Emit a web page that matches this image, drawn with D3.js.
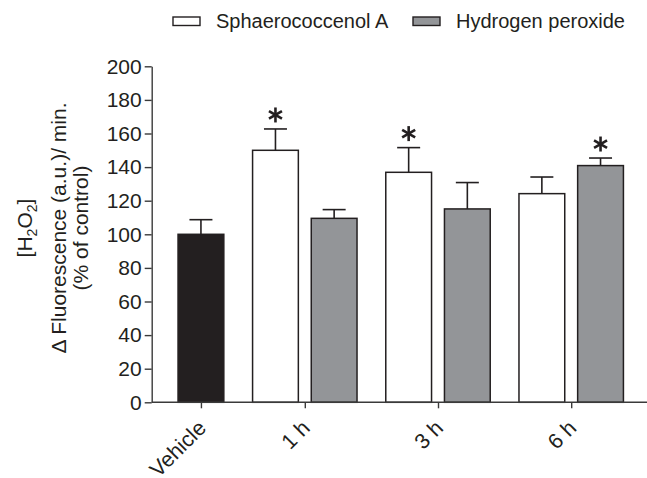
<!DOCTYPE html>
<html>
<head>
<meta charset="utf-8">
<script src="https://cdn.jsdelivr.net/npm/d3@7"></script>
<style>
  body { margin: 0; background: #fff; }
  svg { font-family: "Liberation Sans", Arial, sans-serif; }
</style>
</head>
<body>
<div id="chart"></div>
<script>
// groups along the x axis, and the two series
const groups = ["Vehicle", "1 h", "3 h", "6 h"];
const seriesNames = ["Sphaerococcenol A", "Hydrogen peroxide"];

// mean values (% of control) and upper SEM
const vehicleValue = 100;
const vehicleErr = 8.7;
const saValues = [150, 136.9, 124.2];
const saErrors = [12.7, 14.7, 9.9];
const h2o2Values = [109.5, 115.1, 140.9];
const h2o2Errors = [5.2, 15.7, 4.5];
// which bars carry an asterisk
const saStars = [true, true, false];
const h2o2Stars = [false, false, true];

const yTicks = [0, 20, 40, 60, 80, 100, 120, 140, 160, 180, 200];

function drawChart() {
    const width = 647;
    const height = 478;
    const margin = { top: 66.3, left: 151.7, bottom: 402.3 };

    const svg = d3.select("#chart")
        .append("svg")
        .attr("width", width)
        .attr("height", height);

    // build the bar table from the arrays
    const bars = [{ group: "Vehicle", series: "Hydrogen peroxide", value: vehicleValue, err: vehicleErr, star: false, fill: "#231f20" }];
    groups.slice(1).forEach((g, i) => {
        bars.push({ group: g, series: "Sphaerococcenol A", value: saValues[i], err: saErrors[i], star: saStars[i], fill: "#ffffff" });
        bars.push({ group: g, series: "Hydrogen peroxide", value: h2o2Values[i], err: h2o2Errors[i], star: h2o2Stars[i], fill: "#939598" });
    });

    const x0 = d3.scaleBand()
        .domain(groups)
        .range([105, 637.8])
        .padding(0);

    const x1 = d3.scaleBand()
        .domain(seriesNames)
        .range([0, x0.bandwidth()])
        .paddingInner(0.22)
        .paddingOuter(0.245);

    const y = d3.scaleLinear()
        .domain([0, 200])
        .range([margin.bottom, margin.top]);

    const barX = d => x0(d.group) + x1(d.series);
    const barMid = d => barX(d) + x1.bandwidth() / 2;

    // tick position for each group = middle of the bars it holds
    const tickPos = d3.scaleOrdinal()
        .domain(groups)
        .range(groups.map(g => d3.mean(bars.filter(b => b.group === g), barMid)));

    // y axis
    const yAxis = svg.append("g")
        .attr("transform", `translate(${margin.left},0)`)
        .call(d3.axisLeft(y).tickValues(yTicks).tickSize(7).tickPadding(3).tickSizeOuter(0));
    yAxis.select(".domain").attr("stroke", "#3a3a3a").attr("stroke-width", 1.4);
    yAxis.selectAll(".tick line").attr("stroke", "#3a3a3a").attr("stroke-width", 1.4);
    yAxis.selectAll("text")
        .attr("font-size", 21)
        .attr("fill", "#231f20")
        .attr("font-family", "Liberation Sans, Arial, sans-serif");

    // bars
    svg.append("g")
        .selectAll("rect")
        .data(bars)
        .join("rect")
        .attr("x", barX)
        .attr("y", d => y(d.value))
        .attr("width", x1.bandwidth())
        .attr("height", d => y(0) - y(d.value))
        .attr("fill", d => d.fill)
        .attr("stroke", "#231f20")
        .attr("stroke-width", 1.5);

    // error bars (upper only)
    const errG = svg.append("g").attr("stroke", "#231f20").attr("stroke-width", 1.6);
    errG.selectAll("line.stem")
        .data(bars)
        .join("line")
        .attr("class", "stem")
        .attr("x1", barMid).attr("x2", barMid)
        .attr("y1", d => y(d.value)).attr("y2", d => y(d.value + d.err));
    errG.selectAll("line.cap")
        .data(bars)
        .join("line")
        .attr("class", "cap")
        .attr("x1", d => barMid(d) - 11.5).attr("x2", d => barMid(d) + 11.5)
        .attr("y1", d => y(d.value + d.err)).attr("y2", d => y(d.value + d.err));

    // asterisks: three spokes
    const starG = svg.append("g")
        .selectAll("g")
        .data(bars.filter(d => d.star))
        .join("g")
        .attr("transform", d => `translate(${barMid(d)},${y(d.value + d.err) - 14})`);
    [90, 30, 150].forEach(a => {
        const r = 7.5, t = a * Math.PI / 180;
        starG.append("line")
            .attr("x1", -r * Math.cos(t)).attr("y1", -r * Math.sin(t))
            .attr("x2", r * Math.cos(t)).attr("y2", r * Math.sin(t))
            .attr("stroke", "#231f20")
            .attr("stroke-width", 2.6);
    });

    // x axis line across the whole plot
    svg.append("line")
        .attr("x1", margin.left).attr("x2", width)
        .attr("y1", y(0)).attr("y2", y(0))
        .attr("stroke", "#3a3a3a")
        .attr("stroke-width", 1.4);

    const xAxis = svg.append("g")
        .attr("transform", `translate(0,${y(0)})`)
        .call(d3.axisBottom(tickPos).tickSize(6).tickSizeOuter(0));
    xAxis.select(".domain").remove();
    xAxis.selectAll(".tick line").attr("stroke", "#3a3a3a").attr("stroke-width", 1.4);
    xAxis.selectAll("text")
        .attr("font-size", 21.5)
        .attr("fill", "#231f20")
        .attr("font-family", "Liberation Sans, Arial, sans-serif")
        .attr("text-anchor", "end")
        .attr("dy", null)
        .attr("y", 0)
        .attr("transform", "translate(6,27) rotate(-45)");

    // y axis title, three lines
    const title = svg.append("text")
        .attr("transform", "translate(0,228) rotate(-90)")
        .attr("text-anchor", "middle")
        .attr("font-size", 21)
        .attr("fill", "#231f20");
    const l1 = title.append("tspan").attr("x", 0).attr("y", 32);
    l1.append("tspan").text("[H");
    l1.append("tspan").attr("font-size", 14).attr("dy", 5).text("2");
    l1.append("tspan").attr("dy", -5).text("O");
    l1.append("tspan").attr("font-size", 14).attr("dy", 5).text("2");
    l1.append("tspan").attr("dy", -5).text("]");
    title.append("tspan").attr("x", 0).attr("y", 66).text("Δ Fluorescence (a.u.)/ min.");
    title.append("tspan").attr("x", 0).attr("y", 88).text("(% of control)");

    // legend
    const legendItems = [
        { name: seriesNames[0], fill: "#ffffff", x: 173 },
        { name: seriesNames[1], fill: "#939598", x: 413 }
    ];
    const leg = svg.append("g")
        .selectAll("g")
        .data(legendItems)
        .join("g")
        .attr("transform", d => `translate(${d.x},17)`);
    leg.append("rect")
        .attr("width", 27).attr("height", 8.5)
        .attr("fill", d => d.fill)
        .attr("stroke", "#231f20")
        .attr("stroke-width", 1.4);
    leg.append("text")
        .attr("x", 43).attr("y", 11)
        .attr("font-size", 20)
        .attr("fill", "#231f20")
        .text(d => d.name);
}

document.addEventListener("DOMContentLoaded", drawChart);
</script>
</body>
</html>
